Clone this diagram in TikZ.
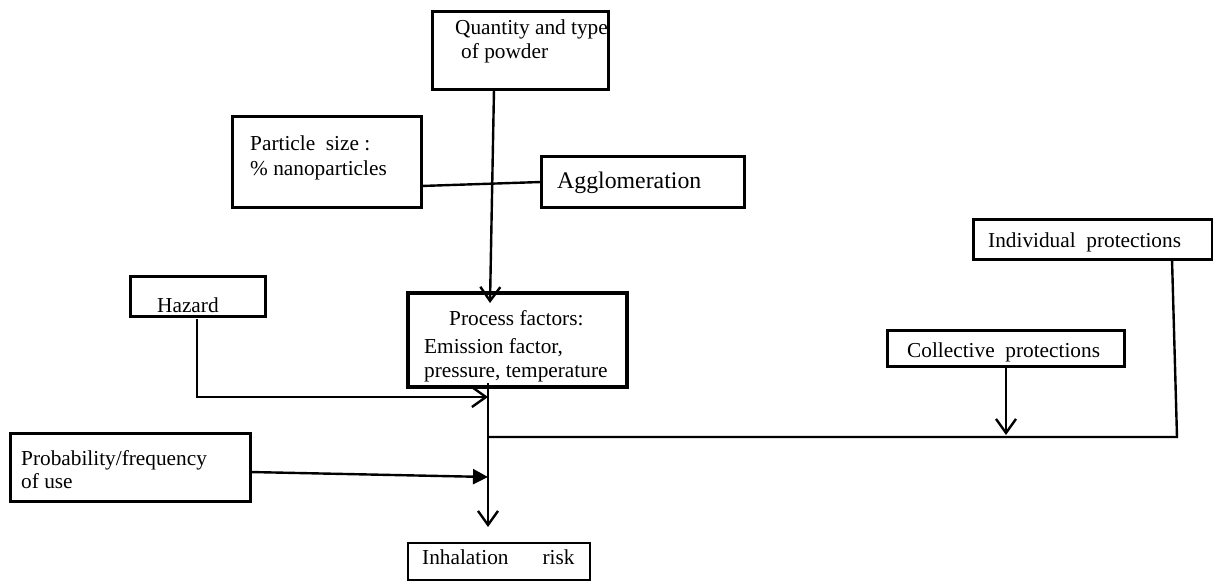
\documentclass[tikz,border=0pt]{standalone}
\usepackage{fontspec}
\setmainfont{Liberation Serif}
\usetikzlibrary{arrows.meta,calc}
\begin{document}
\begin{tikzpicture}[x=1pt,y=-1pt,
  box/.style={draw, line width=3pt, anchor=north west, inner sep=0pt, outer sep=0pt},
  txt/.style={anchor=base west, inner sep=0pt, font=\fontsize{21.3}{25}\selectfont},
  conn/.style={line width=2.4pt},
  openarr/.style={conn, -{Straight Barb[length=14pt,width=20pt,line width=2.4pt]}},
  fillarr/.style={conn, -{Triangle[length=15pt,width=15pt]}}]
\fill[white] (0,0) rectangle (1213,581);
\useasboundingbox (0,0) rectangle (1213,581);

% boxes
\node[box, minimum width=176pt, minimum height=78pt] (qty) at (432,11) {};
\node[box, minimum width=189pt, minimum height=91pt] (part) at (232,116) {};
\node[box, minimum width=203pt, minimum height=51pt] (agg) at (541,156) {};
\node[box, minimum width=135pt, minimum height=40pt] (haz) at (130,276) {};
\node[box, line width=4pt, minimum width=219pt, minimum height=94pt] (proc) at (408,293) {};
\node[box, minimum width=239pt, minimum height=40pt] (indiv) at (973,219) {};
\node[box, minimum width=237pt, minimum height=36pt] (coll) at (887,330) {};
\node[box, minimum width=240pt, minimum height=68pt] (prob) at (10,433) {};
\node[box, line width=2.5pt, minimum width=182pt, minimum height=37pt] (inh) at (408,543) {};

% texts
\node[txt] (qty1) at (455,34) {Quantity and type};
\node[txt] (qty2) at (461,58) {of powder};
\node[txt] (part1) at (250,150) {Particle\ \ size :};
\node[txt] (part2) at (250,175) {\% nanoparticles};
\node[txt, font=\fontsize{23.8}{28}\selectfont] (agg1) at (557,188) {Agglomeration};
\node[txt] (haz1) at (157,312) {Hazard};
\node[txt] (proc1) at (449,325) {Process factors:};
\node[txt] (proc2) at (424,353) {Emission factor,};
\node[txt] (proc3) at (424,377) {pressure, temperature};
\node[txt] (indiv1) at (988,247) {Individual\ \ protections};
\node[txt] (coll1) at (907,357) {Collective\ \ protections};
\node[txt] (prob1) at (21,465) {Probability/frequency};
\node[txt] (prob2) at (21,488) {of use};
\node[txt] (inh1) at (422,564) {Inhalation\hspace{34pt}risk};

% junctions
\coordinate (jR) at (488,437);

% connectors
\draw[conn] ($(part.south east)+(0,-21)$) -- ($(agg.south west)+(0,-25)$);
\draw[openarr] ($(qty.south west)+(62,0)$) -- ($(proc.north west)+(82,10)$);
\draw[openarr] ($(haz.south west)+(67,3)$) |- ($(jR)+(0,-40)$);
\draw[openarr] ($(proc.south west)+(80,-4)$) -- ($(inh.north west)+(80,-16)$);
\draw[conn] ($(indiv.south west)+(199,0)$) -- ++(5,178) -- (jR);
\draw[openarr] ($(coll.south west)+(119,0)$) -- ++(0,69);
\draw[fillarr] ($(prob.north east)+(0,39)$) -- ($(jR)+(0,40)$);
\end{tikzpicture}
\end{document}
